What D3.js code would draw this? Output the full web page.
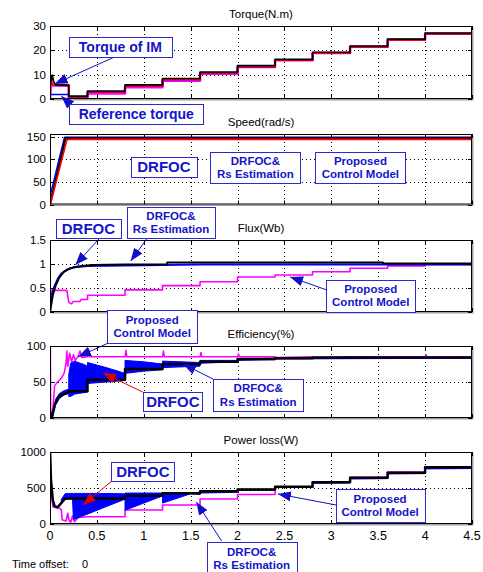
<!DOCTYPE html>
<html>
<head>
<meta charset="utf-8">
<script src="https://cdn.jsdelivr.net/npm/d3@7"></script>
<style>
body { margin: 0; background: #fff; }
svg { display: block; font-family: Arial, "Liberation Sans", sans-serif; }
.grid line { stroke: #000; stroke-width: 1; stroke-dasharray: 1,3; }
.tick-label { font-size: 11.5px; fill: #000; }
.title { font-size: 11.5px; fill: #000; }
.note text { font-weight: bold; fill: #1414c8; }
</style>
</head>
<body>
<svg id="chart" width="483" height="572"></svg>
<script>
// ---- data ----
var timeTicks = [0, 0.5, 1, 1.5, 2, 2.5, 3, 3.5, 4, 4.5],
    loadSteps = [0.2, 0.4, 0.8, 1.2, 1.6, 2.0, 2.4, 2.8, 3.2, 3.6, 4.0];

// torque (N.m)
var torqueTicks = [0, 10, 20, 30],
    torqueBlackStart = [[0, 0], [0.005, 9.6], [0.015, 7.5], [0.025, 9.8], [0.04, 7], [0.06, 5.8], [0.2, 5.6]],
    torqueBlackLevels = [1.2, 3.3, 5.8, 8.4, 11.1, 13.7, 16.3, 19.2, 21.8, 24.6, 27.1],
    torqueRedStart = [[0, 0], [0.01, 7], [0.03, 6], [0.2, 5.9]],
    torqueRedLevels = [0.8, 2.9, 5.4, 8.0, 10.7, 13.3, 15.9, 18.8, 21.4, 24.2, 26.7],
    torqueMagStart = [[0, 0], [0.01, 7.5], [0.03, 5.5], [0.2, 5.4]],
    torqueMagLevels = [0.5, 2.3, 4.8, 7.5, 10.4, 13.1, 15.9, 18.9, 21.5, 24.4, 26.8],
    torqueRefStart = [[0, 1.8], [0.2, 1.8]],
    torqueRefLevels = [0.8, 2.9, 5.4, 8.0, 10.7, 13.3, 15.9, 18.8, 21.4, 24.2, 26.7];

// speed (rad/s)
var speedTicks = [0, 50, 100, 150],
    speedBlue = [[0, 15], [0.005, 22], [0.155, 149], [4.5, 149]],
    speedMag = [[0, 0], [0.17, 148.5], [4.5, 148.5]],
    speedBlack = [[0, 0], [0.165, 147], [4.5, 147]],
    speedRed = [[0, 0], [0.01, 5], [0.18, 143], [0.2, 144], [4.5, 144]];

// flux (Wb)
var fluxTicks = [0, 0.5, 1, 1.5],
    fluxBlue = [[0, 0], [0.01, 0.3], [0.04, 0.5], [0.08, 0.68], [0.12, 0.8], [0.18, 0.88], [0.25, 0.93],
        [0.4, 0.96], [0.8, 0.97], [1.2, 0.98], [1.6, 0.99], [4.5, 0.99]],
    fluxBlack = [[0, 0], [0.01, 0.12], [0.03, 0.35], [0.06, 0.55], [0.1, 0.72], [0.15, 0.84], [0.2, 0.9],
        [0.3, 0.95], [0.45, 0.98], [0.8, 0.99], [1.25, 0.99], [1.25, 1.03], [3.55, 1.03], [3.55, 1.01], [4.5, 1.01]],
    fluxMag = [[0, 0], [0.02, 0.45], [0.18, 0.45], [0.2, 0.2], [0.23, 0.17], [0.25, 0.22], [0.32, 0.22],
        [0.33, 0.26], [0.4, 0.26], [0.4, 0.35], [0.8, 0.35], [0.8, 0.46], [1.2, 0.46], [1.2, 0.55],
        [1.6, 0.55], [1.6, 0.63], [2.0, 0.63], [2.0, 0.73], [2.4, 0.73], [2.4, 0.77], [2.8, 0.77],
        [2.8, 0.84], [3.2, 0.84], [3.2, 0.91], [3.6, 0.91], [3.6, 0.96], [4.0, 0.96], [4.0, 0.99], [4.5, 0.99]];

// efficiency (%)
var effTicks = [0, 50, 100],
    effMag = [[0, 0], [0.004, 100], [0.008, 0], [0.03, 12], [0.05, 45], [0.08, 50], [0.12, 55], [0.15, 62],
        [0.17, 75], [0.18, 93], [0.19, 72], [0.21, 90], [0.23, 78], [0.25, 88], [0.27, 80], [0.3, 86],
        [0.32, 93], [0.34, 84], [0.4, 85], [0.41, 95], [0.42, 85], [0.8, 85], [0.81, 94], [0.82, 85],
        [1.2, 85], [1.21, 93], [1.22, 85], [1.6, 85], [1.61, 91], [1.62, 85], [2.0, 85], [2.01, 89],
        [2.02, 85], [2.4, 85], [2.41, 84], [2.8, 85], [2.81, 84], [3.2, 85], [3.6, 85], [4.0, 85],
        [4.01, 88], [4.02, 85], [4.5, 85]],
    effBand = [[0.03, 2, 8], [0.06, 18, 26], [0.1, 27, 34], [0.15, 32, 38], [0.2, 34, 40], [0.2, 30, 60],
        [0.22, 30, 76], [0.26, 33, 79], [0.3, 34, 77], [0.35, 35, 75], [0.4, 36, 72], [0.4, 48, 77],
        [0.6, 50, 70], [0.8, 52, 62], [0.8, 62, 80], [1.0, 65, 78], [1.2, 67, 75], [1.2, 70, 79],
        [1.6, 72, 77], [1.6, 76, 80], [2.0, 78, 80], [2.0, 80, 82], [2.4, 81, 83], [2.4, 82, 84], [4.5, 83, 84]],
    effBlackStart = [[0, 0], [0.02, 2], [0.05, 18], [0.08, 27], [0.12, 32], [0.2, 36]],
    effBlackLevels = [37, 53, 68, 75, 78, 82, 83, 84, 84, 84, 84];

// power loss (W)
var lossTicks = [0, 500, 1000],
    lossMag = [[0, 0], [0.004, 980], [0.012, 500], [0.03, 240], [0.1, 220], [0.12, 200], [0.13, 60],
        [0.17, 40], [0.19, 150], [0.2, 60], [0.22, 20], [0.24, 110], [0.26, 30], [0.3, 90], [0.4, 100],
        [0.8, 100], [0.8, 194], [1.2, 194], [1.2, 264], [1.6, 264], [1.6, 347], [2.0, 347], [2.0, 410],
        [2.4, 410], [2.4, 515], [2.8, 515], [2.8, 585], [3.2, 585], [3.2, 650], [3.6, 650], [3.6, 720],
        [4.0, 720], [4.0, 790], [4.5, 790]],
    lossBand = [[0.12, 280, 340], [0.16, 350, 420], [0.24, 350, 425], [0.25, 60, 425], [0.5, 190, 425],
        [0.8, 345, 420], [0.8, 190, 430], [1.0, 290, 430], [1.2, 390, 430], [1.2, 290, 435], [1.5, 420, 435],
        [1.6, 410, 440], [1.6, 430, 450], [2.0, 440, 450], [2.0, 465, 475], [2.4, 470, 478], [2.4, 505, 512],
        [2.8, 508, 514], [2.8, 565, 575], [3.2, 570, 576], [3.2, 625, 637], [3.6, 630, 638], [3.6, 695, 705],
        [4.0, 700, 708], [4.0, 765, 780], [4.5, 770, 780]],
    lossBlackStart = [[0, 1000], [0.01, 620], [0.03, 330], [0.05, 245], [0.08, 232], [0.12, 290], [0.16, 350], [0.2, 355]],
    lossBlackLevels = [355, 355, 393, 426, 455, 480, 518, 580, 643, 713, 787];

// ---- layout ----
var plot = { left: 50, right: 472 },
    colors = { black: "#000", red: "#ff0000", blue: "#0000ff", mag: "#ff00ff", note: "#1414c8" };

var svg = d3.select("#chart"),
    x = d3.scaleLinear().domain([0, 4.5]).range([plot.left, plot.right]);

function stepped(start, levels) {
    var pts = start.slice(),
        last = start[start.length - 1][1];
    loadSteps.forEach(function(t, i) {
        if (t < pts[pts.length - 1][0]) return;
        pts.push([t, last]);
        pts.push([t, levels[i]]);
        last = levels[i];
    });
    pts.push([4.5, last]);
    return pts;
}

var panels = [
    { title: "Torque(N.m)", top: 26, bottom: 99, domain: [0, 30], ticks: torqueTicks },
    { title: "Speed(rad/s)", top: 134, bottom: 204.5, domain: [0, 156], ticks: speedTicks },
    { title: "Flux(Wb)", top: 240, bottom: 312, domain: [0, 1.5], ticks: fluxTicks },
    { title: "Efficiency(%)", top: 346, bottom: 418, domain: [0, 100], ticks: effTicks },
    { title: "Power loss(W)", top: 452, bottom: 524, domain: [0, 1000], ticks: lossTicks }
];

panels.forEach(function(p) {
    p.y = d3.scaleLinear().domain(p.domain).range([p.bottom, p.top]);
});

panels[0].series = [
    { data: stepped(torqueMagStart, torqueMagLevels), color: colors.mag, width: 2.5 },
    { data: stepped(torqueRefStart, torqueRefLevels), color: colors.blue, width: 1.5 },
    { data: stepped(torqueRedStart, torqueRedLevels), color: colors.red, width: 1.6 },
    { data: stepped(torqueBlackStart, torqueBlackLevels), color: colors.black, width: 1.6 }
];
panels[1].series = [
    { data: speedBlue, color: colors.blue, width: 1.5 },
    { data: speedMag, color: colors.mag, width: 1.5 },
    { data: speedBlack, color: colors.black, width: 2 },
    { data: speedRed, color: colors.red, width: 1.6 }
];
panels[2].series = [
    { data: fluxMag, color: colors.mag, width: 1.6 },
    { data: fluxBlue, color: colors.blue, width: 2 },
    { data: fluxBlack, color: colors.black, width: 2 }
];
panels[3].series = [
    { data: effMag, color: colors.mag, width: 1.5 },
    { band: effBand, color: colors.blue },
    { data: stepped(effBlackStart, effBlackLevels), color: colors.black, width: 2.5 }
];
panels[4].series = [
    { data: lossMag, color: colors.mag, width: 1.6 },
    { band: lossBand, color: colors.blue },
    { data: stepped(lossBlackStart, lossBlackLevels), color: colors.black, width: 2.5 }
];

// annotation boxes, anchored in data units of their panel
var notes = [
    { panel: 0, lines: ["Torque of IM"], size: 14, at: [0.75, 21.4], w: 103, h: 20, from: [0.69, 17.3], to: [0.05, 6.2], arrow: "blue" },
    { panel: 0, lines: ["Reference torque"], size: 14, at: [0.92, -6.2], w: 134, h: 20, from: [0.21, -2.1], to: [0.12, 1.2], arrow: "blue" },
    { panel: 1, lines: ["DRFOC"], size: 15, at: [1.215, 83], w: 66, h: 20 },
    { panel: 1, lines: ["DRFOC&", "Rs Estimation"], size: 11.5, at: [2.19, 82], w: 90, h: 31 },
    { panel: 1, lines: ["Proposed", "Control Model"], size: 11.5, at: [3.31, 82], w: 90, h: 31 },
    { panel: 2, lines: ["DRFOC"], size: 15, at: [0.41, 1.74], w: 65, h: 19, from: [0.53, 1.54], to: [0.27, 0.98], arrow: "blue" },
    { panel: 2, lines: ["DRFOC&", "Rs Estimation"], size: 11.5, at: [1.29, 1.86], w: 88, h: 31, from: [1.03, 1.52], to: [0.86, 1.06], arrow: "blue" },
    { panel: 2, lines: ["Proposed", "Control Model"], size: 11.5, at: [3.42, 0.34], w: 89, h: 32, from: [2.95, 0.46], to: [2.56, 0.73], arrow: "blue" },
    { panel: 3, lines: ["Proposed", "Control Model"], size: 11.5, at: [1.09, 127], w: 90, h: 33, from: [0.62, 104], to: [0.3, 85], arrow: "blue" },
    { panel: 3, lines: ["DRFOC"], size: 15, at: [1.31, 23], w: 59, h: 19, from: [0.99, 36], to: [0.565, 62.5], arrow: "red" },
    { panel: 3, lines: ["DRFOC&", "Rs Estimation"], size: 11.5, at: [2.22, 32], w: 90, h: 32, from: [1.74, 54], to: [1.42, 75], arrow: "blue" },
    { panel: 4, lines: ["DRFOC"], size: 15, at: [0.99, 729], w: 63, h: 19, from: [0.66, 597], to: [0.35, 264], arrow: "red" },
    { panel: 4, lines: ["DRFOC&", "Rs Estimation"], size: 11.5, at: [2.15, -472], w: 90, h: 32, from: [1.83, -236], to: [1.56, 306], arrow: "blue" },
    { panel: 4, lines: ["Proposed", "Control Model"], size: 11.5, at: [3.52, 257], w: 89, h: 33, from: [3.05, 264], to: [2.43, 417], arrow: "blue" }
];

// ---- drawing ----
var defs = svg.append("defs");

[["blue", "#1010c8"], ["red", "#e00000"]].forEach(function(m) {
    defs.append("marker")
        .attr("id", "head-" + m[0])
        .attr("markerUnits", "userSpaceOnUse")
        .attr("markerWidth", 13).attr("markerHeight", 10)
        .attr("refX", 13).attr("refY", 5)
        .attr("orient", "auto")
        .append("path")
        .attr("d", "M0,0L13,5L0,10Z")
        .attr("fill", m[1]);
});

var line = d3.line().x(function(d) { return x(d[0]); });

panels.forEach(function(p, i) {
    var g = svg.append("g").attr("class", "panel");

    defs.append("clipPath").attr("id", "clip" + i)
        .append("rect")
        .attr("x", plot.left).attr("y", p.top)
        .attr("width", plot.right - plot.left).attr("height", p.bottom - p.top);

    // shadow + background
    g.append("rect")
        .attr("x", plot.left + 1.5).attr("y", p.top + 1.5)
        .attr("width", plot.right - plot.left).attr("height", p.bottom - p.top)
        .attr("fill", "#a0a0a0");
    g.append("rect")
        .attr("x", plot.left).attr("y", p.top)
        .attr("width", plot.right - plot.left).attr("height", p.bottom - p.top)
        .attr("fill", "#fff");

    // dotted grid
    var grid = g.append("g").attr("class", "grid");
    grid.selectAll(".gx").data(timeTicks.slice(1, -1)).enter()
        .append("line")
        .attr("x1", function(d) { return Math.round(x(d)) + 0.5; })
        .attr("x2", function(d) { return Math.round(x(d)) + 0.5; })
        .attr("y1", p.top).attr("y2", p.bottom);
    grid.selectAll(".gy").data(p.ticks.filter(function(d) { return d > p.domain[0] && d < p.domain[1]; })).enter()
        .append("line")
        .attr("x1", plot.left).attr("x2", plot.right)
        .attr("y1", function(d) { return Math.round(p.y(d)) + 0.5; })
        .attr("y2", function(d) { return Math.round(p.y(d)) + 0.5; });

    // traces
    var traces = g.append("g").attr("clip-path", "url(#clip" + i + ")");
    line.y(function(d) { return p.y(d[1]); });
    var area = d3.area()
        .x(function(d) { return x(d[0]); })
        .y0(function(d) { return p.y(d[1]); })
        .y1(function(d) { return p.y(d[2]); });

    p.series.forEach(function(s) {
        if (s.band) {
            traces.append("path")
                .attr("d", area(s.band))
                .attr("fill", s.color)
                .attr("stroke", s.color)
                .attr("stroke-width", 1);
        } else {
            traces.append("path")
                .attr("d", line(s.data))
                .attr("fill", "none")
                .attr("stroke", s.color)
                .attr("stroke-width", s.width)
                .attr("stroke-linejoin", "round");
        }
    });

    // frame and inward ticks
    g.append("rect")
        .attr("x", plot.left + 0.5).attr("y", p.top + 0.5)
        .attr("width", plot.right - plot.left - 1).attr("height", p.bottom - p.top - 1)
        .attr("fill", "none").attr("stroke", "#000");

    var ticks = g.append("g").attr("stroke", "#000");
    timeTicks.forEach(function(t) {
        var xx = Math.round(x(t)) + 0.5;
        ticks.append("line").attr("x1", xx).attr("x2", xx).attr("y1", p.bottom).attr("y2", p.bottom - 4);
        ticks.append("line").attr("x1", xx).attr("x2", xx).attr("y1", p.top).attr("y2", p.top + 4);
    });
    p.ticks.forEach(function(v) {
        var yy = Math.round(p.y(v)) + 0.5;
        ticks.append("line").attr("x1", plot.left).attr("x2", plot.left + 4).attr("y1", yy).attr("y2", yy);
        ticks.append("line").attr("x1", plot.right).attr("x2", plot.right - 4).attr("y1", yy).attr("y2", yy);
    });

    g.selectAll(".ylab").data(p.ticks).enter()
        .append("text")
        .attr("class", "tick-label")
        .attr("x", plot.left - 4)
        .attr("y", function(d) { return p.y(d) + 4; })
        .attr("text-anchor", "end")
        .text(function(d) { return String(d); });

    g.append("text")
        .attr("class", "title")
        .attr("x", (plot.left + plot.right) / 2)
        .attr("y", p.top - 8)
        .attr("text-anchor", "middle")
        .text(p.title);

    if (i === panels.length - 1) {
        g.selectAll(".xlab").data(timeTicks).enter()
            .append("text")
            .attr("class", "tick-label")
            .attr("x", function(d) { return x(d); })
            .attr("y", p.bottom + 16)
            .attr("text-anchor", "middle")
            .style("font-size", "12.5px")
            .text(function(d) { return String(d); });
    }
});

// arrows first, boxes on top
var noteLayer = svg.append("g");

notes.forEach(function(n) {
    var y = panels[n.panel].y;
    if (n.arrow) {
        noteLayer.append("line")
            .attr("x1", x(n.from[0])).attr("y1", y(n.from[1]))
            .attr("x2", x(n.to[0])).attr("y2", y(n.to[1]))
            .attr("stroke", n.arrow === "red" ? "#e00000" : "#1010c8")
            .attr("stroke-width", 1)
            .attr("marker-end", "url(#head-" + n.arrow + ")");
    }
});

notes.forEach(function(n) {
    var y = panels[n.panel].y,
        cx = x(n.at[0]),
        cy = y(n.at[1]),
        g = noteLayer.append("g").attr("class", "note");
    g.append("rect")
        .attr("x", Math.round(cx - n.w / 2) + 0.5)
        .attr("y", Math.round(cy - n.h / 2) + 0.5)
        .attr("width", n.w).attr("height", n.h)
        .attr("fill", "#fff")
        .attr("stroke", "#2a2ad0")
        .attr("stroke-width", 1);
    var lh = n.size * 1.15,
        y0 = cy - (n.lines.length - 1) * lh / 2 + n.size * 0.36;
    n.lines.forEach(function(t, k) {
        g.append("text")
            .attr("x", cx)
            .attr("y", y0 + k * lh)
            .attr("text-anchor", "middle")
            .style("font-size", n.size + "px")
            .text(t);
    });
});

svg.append("text")
    .attr("x", 12).attr("y", 568)
    .style("font-size", "11px")
    .text("Time offset:");
svg.append("text")
    .attr("x", 82).attr("y", 568)
    .style("font-size", "11px")
    .text("0");
</script>
</body>
</html>
